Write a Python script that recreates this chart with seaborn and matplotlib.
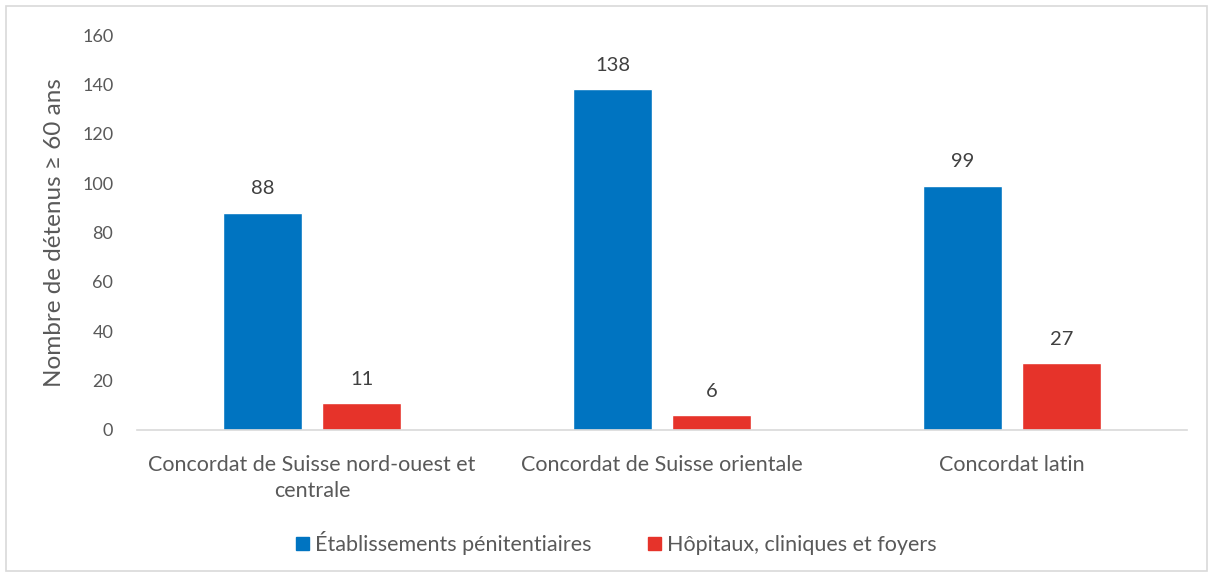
import matplotlib
matplotlib.use("Agg")
import matplotlib.pyplot as plt
import seaborn as sns
import pandas as pd
from matplotlib.patches import Rectangle

categories = ["Concordat de Suisse nord-ouest et\ncentrale", "Concordat de Suisse orientale", "Concordat latin"]
series_names = ["Établissements pénitentiaires", "Hôpitaux, cliniques et foyers"]
etablissements = [88, 138, 99]
hopitaux = [11, 6, 27]
yticks = [0, 20, 40, 60, 80, 100, 120, 140, 160]
ylabel = "Nombre de détenus ≥ 60 ans"

colors = ["#0074C1", "#E6332A"]

df = pd.DataFrame({
    "cat": categories * 2,
    "serie": [series_names[0]] * 3 + [series_names[1]] * 3,
    "val": etablissements + hopitaux,
})

sns.set_theme(style="white")
plt.rcParams["font.family"] = ["Lato", "DejaVu Sans"]

fig = plt.figure(figsize=(12.13, 5.77), dpi=100)
ax = fig.add_axes([0.1129, 0.2548, 0.8657, 0.6845])

sns.barplot(data=df, x="cat", y="val", hue="serie", palette=colors,
            width=0.566, gap=0.21, ax=ax, legend=True, saturation=1)

ax.set_ylim(0, 160)
ax.set_yticks(yticks)
ax.set_yticklabels([str(t) for t in yticks], color="#595959", fontsize=13)
ax.tick_params(axis="y", length=0, pad=17)
ax.tick_params(axis="x", length=0, pad=18, labelsize=15.5, labelcolor="#595959")
for lbl in ax.get_xticklabels():
    lbl.set_linespacing(1.35)
ax.set_xlabel("")
ax.set_ylabel(ylabel, fontsize=17.5, color="#595959", labelpad=12)

for s in ["top", "right", "left"]:
    ax.spines[s].set_visible(False)
ax.spines["bottom"].set_color("#D9D9D9")
ax.spines["bottom"].set_linewidth(1.2)

for cont in ax.containers:
    ax.bar_label(cont, padding=11, fontsize=14.5, color="#404040")

ax.get_legend().remove()
handles = [Rectangle((0, 0), 1, 1, color=c) for c in colors]
fig.legend(handles, series_names, loc="center", bbox_to_anchor=(0.508, 0.059),
           ncol=2, frameon=False, fontsize=15.5, handlelength=0.6, handleheight=0.6,
           handletextpad=0.3, columnspacing=2.6, labelcolor="#595959")

fig.patches.append(Rectangle((6 / 1213, 6 / 577), 1201 / 1213, 565 / 577,
                             transform=fig.transFigure, fill=False,
                             edgecolor="#D9D9D9", linewidth=1.2))

fig.savefig("out.png", dpi=100)
